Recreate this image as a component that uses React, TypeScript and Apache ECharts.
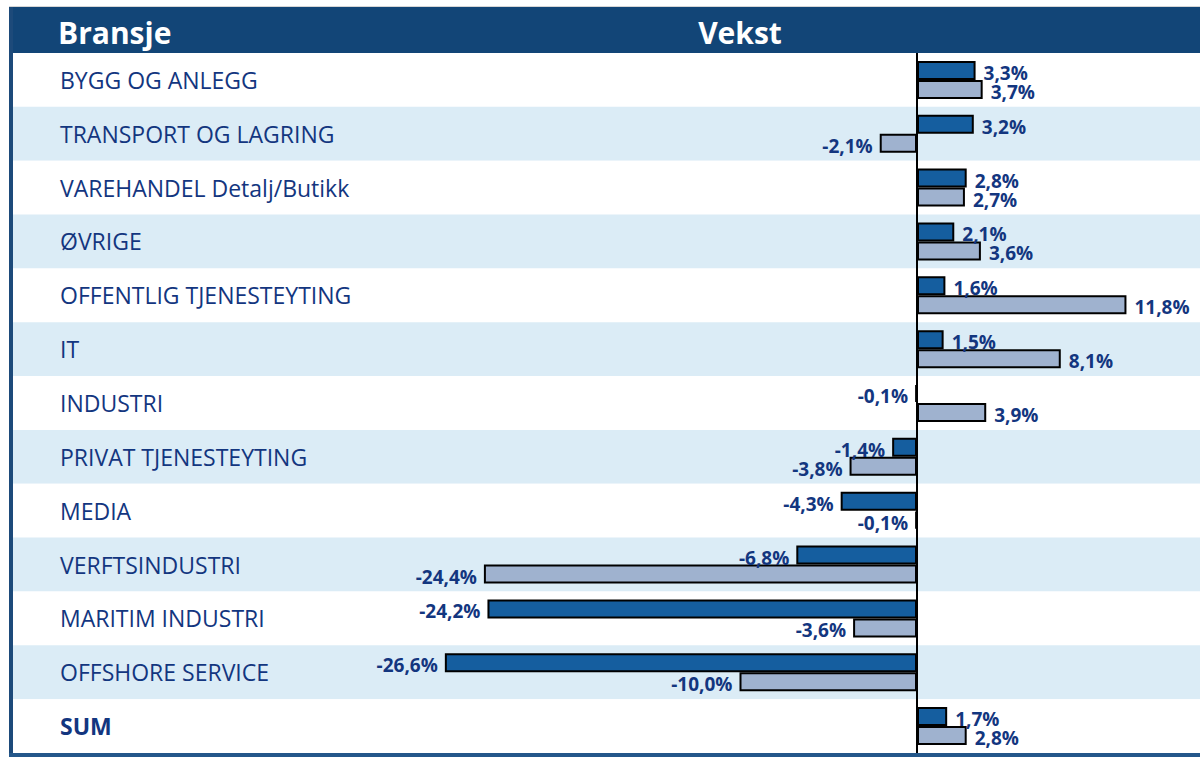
import React, { useEffect, useRef } from "react";
import * as echarts from "echarts";

const categories = [
  "BYGG OG ANLEGG",
  "TRANSPORT OG LAGRING",
  "VAREHANDEL Detalj/Butikk",
  "ØVRIGE",
  "OFFENTLIG TJENESTEYTING",
  "IT",
  "INDUSTRI",
  "PRIVAT TJENESTEYTING",
  "MEDIA",
  "VERFTSINDUSTRI",
  "MARITIM INDUSTRI",
  "OFFSHORE SERVICE",
  "SUM",
];
const growthA = [3.3, 3.2, 2.8, 2.1, 1.6, 1.5, -0.1, -1.4, -4.3, -6.8, -24.2, -26.6, 1.7];
const growthB = [3.7, -2.1, 2.7, 3.6, 11.8, 8.1, 3.9, -3.8, -0.1, -24.4, -3.6, -10.0, 2.8];
const headerLeft = "Bransje";
const headerRight = "Vekst";

const W = 1200;
const H = 757;
const GRID_LEFT = 13;
const GRID_TOP = 53;
const GRID_BOTTOM = 4;
const ZERO_X = 917;
const PX_PER_PCT = 17.75;
const NAVY = "#13367f";
const FONT = "'Open Sans', 'Noto Sans', sans-serif";

const fmt = (v: number) => v.toFixed(1).replace(".", ",") + "%";

function toItems(vals: number[], color: string) {
  return vals.map((v) => ({
    value: v,
    label: {
      position: v < 0 ? "left" : "right",
      distance: v < 0 ? 7 : 8,
    },
    itemStyle: { color },
  }));
}

export default function App() {
  const ref = useRef<HTMLDivElement>(null);
  useEffect(() => {
    if (!ref.current) return;
    const chart = echarts.init(ref.current, null, { renderer: "svg" });
    const xMin = -(ZERO_X - GRID_LEFT) / PX_PER_PCT;
    const xMax = (W - ZERO_X) / PX_PER_PCT;
    const labelCommon = {
      show: true,
      formatter: (p: any) => fmt(p.value),
      color: NAVY,
      fontFamily: FONT,
      fontWeight: "bold",
      fontSize: 19,
      offset: [0, 2.5],
    };
    const barStyle = { borderColor: "#000", borderWidth: 2 };
    chart.setOption({
      animation: false,
      backgroundColor: "#ffffff",
      grid: { left: GRID_LEFT, right: 0, top: GRID_TOP, bottom: GRID_BOTTOM, containLabel: false },
      xAxis: {
        type: "value",
        min: xMin,
        max: xMax,
        show: false,
        splitLine: { show: false },
      },
      yAxis: {
        type: "category",
        inverse: true,
        data: categories,
        axisLine: { show: false },
        axisTick: { show: false },
        splitLine: { show: false },
        splitArea: { show: true, areaStyle: { color: ["#ffffff", "#dbecf6"] } },
        axisLabel: {
          inside: true,
          margin: 47,
          align: "left",
          color: NAVY,
          fontFamily: FONT,
          fontSize: 23,
          formatter: (v: string) => (v === "SUM" ? "{b|" + v + "}" : v),
          rich: {
            b: { fontWeight: "bold", color: NAVY, fontFamily: FONT, fontSize: 23 },
          },
        },
      },
      series: [
        {
          type: "bar",
          data: toItems(growthA, "#155e9f"),
          barWidth: 19,
          barGap: "0%",
          itemStyle: barStyle,
          label: labelCommon,
          markLine: {
            silent: true,
            symbol: "none",
            label: { show: false },
            lineStyle: { color: "#000", width: 2, type: "solid" },
            data: [{ xAxis: 0 }],
            z: 10,
          },
        },
        {
          type: "bar",
          data: toItems(growthB, "#9fb2cf"),
          barWidth: 19,
          barGap: "0%",
          itemStyle: barStyle,
          label: labelCommon,
        },
      ],
      graphic: [
        { type: "rect", shape: { x: 9, y: 6, width: W - 9, height: 1 }, style: { fill: "#d6d6d6" } },
        { type: "rect", shape: { x: 9, y: 7, width: W - 9, height: 46 }, style: { fill: "#124577" } },
        { type: "rect", shape: { x: 9, y: 7, width: 4, height: H - 7 }, style: { fill: "#1d4a7a" } },
        { type: "rect", shape: { x: 9, y: H - 4, width: W - 9, height: 4 }, style: { fill: "#24578a" } },
        {
          type: "text",
          x: 58,
          y: 32,
          style: {
            text: headerLeft,
            fill: "#ffffff",
            font: "bold 30px " + FONT,
            verticalAlign: "middle",
          },
        },
        {
          type: "text",
          x: 740,
          y: 32,
          style: {
            text: headerRight,
            fill: "#ffffff",
            font: "bold 30px " + FONT,
            align: "center",
            verticalAlign: "middle",
          },
        },
      ],
    });
    return () => chart.dispose();
  }, []);
  return (
    <div
      ref={ref}
      style={{ position: "fixed", left: 0, top: 0, width: W, height: H }}
    />
  );
}
